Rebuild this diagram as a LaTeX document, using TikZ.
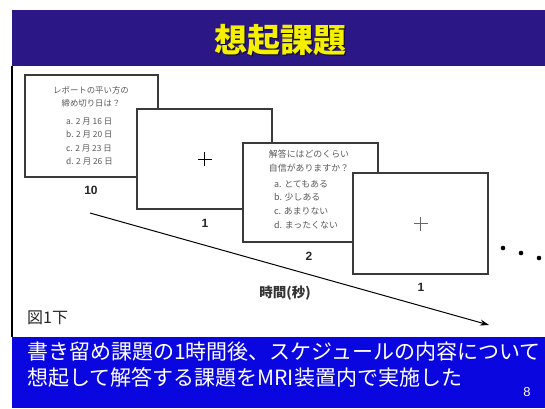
\documentclass[tikz,border=0pt]{standalone}
\usepackage{fontspec}
\setmainfont{Liberation Sans}
\newfontfamily\jp{Noto Sans CJK JP}
\usetikzlibrary{arrows.meta}
\definecolor{titlebar}{HTML}{2B1786}
\definecolor{bottombar}{HTML}{0A06E0}
\definecolor{boxline}{HTML}{3A3A3A}
\definecolor{qtext}{HTML}{5A5A5A}
\definecolor{titleyellow}{HTML}{F5F000}
\begin{document}
\begin{tikzpicture}[x=1pt,y=-1pt,
  card/.style={draw=boxline, line width=1.2pt, fill=white, minimum width=135pt, minimum height=100pt, inner sep=0pt},
  numlabel/.style={font=\fontsize{12}{12}\selectfont\bfseries, text=black!85, inner sep=0pt},
  qsmall/.style={font=\jp\fontsize{8.4}{13.2}\selectfont, text=qtext, inner sep=0pt},
  qmid/.style={font=\jp\fontsize{8.9}{13.6}\selectfont, text=qtext, inner sep=0pt},
  fix/.style={line width=0.9pt}
]
\useasboundingbox (0,0) rectangle (545,408);
\fill[white] (0,0) rectangle (545,408);
% bars
\node[fill=titlebar, minimum width=533pt, minimum height=56pt, anchor=north west, inner sep=0pt] (titlebar) at (12,10) {};
\node[fill=bottombar, minimum width=533pt, minimum height=71pt, anchor=north west, inner sep=0pt] (bottombar) at (12,337) {};
\draw[line width=1.2pt, black] (titlebar.south west) -- (bottombar.north west);
% title
\node[text=black!80!titlebar, font=\jp\bfseries\fontsize{33}{33}\selectfont, inner sep=0pt] (titleshadow) at (281.2,41.2) {想起課題};
\node[text=titleyellow, font=\jp\bfseries\fontsize{33}{33}\selectfont, inner sep=0pt] (title) at (280,40) {想起課題};
% cards
\node[card, minimum width=133pt, minimum height=102pt] (box1) at (91.5,126) {};
\node[qsmall, align=center] (q1) at (91,97) {レポートの平い方の\\締め切り日は？};
\node[qsmall, align=left, anchor=west] (q1opts) at (66,141.5) {a. 2 月 16 日\\b. 2 月 20 日\\c. 2 月 23 日\\d. 2 月 26 日};
\node[numlabel] (l1) at (91,190) {10};

\node[card] (box2) at (204.5,159) {};
\draw[fix, black] ([xshift=-7pt]box2.center) -- ([xshift=7pt]box2.center);
\draw[fix, black] ([yshift=-7pt]box2.center) -- ([yshift=7pt]box2.center);
\node[numlabel] (l2) at (205,223) {1};

\node[card, minimum height=99pt] (box3) at (310.5,192.5) {};
\node[qmid, align=center] (q3) at (309,161) {解答にはどのくらい\\自信がありますか？};
\node[qmid, align=left, anchor=west] (q3opts) at (274,204.5) {a. とてもある\\b. 少しある\\c. あまりない\\d. まったくない};
\node[numlabel] (l3) at (309,256) {2};

\node[card, minimum height=101pt] (box4) at (420.5,223.5) {};
\draw[line width=0.8pt, black!60] ([xshift=-7pt]box4.center) -- ([xshift=7pt]box4.center);
\draw[line width=0.8pt, black!60] ([yshift=-7pt]box4.center) -- ([yshift=7pt]box4.center);
\node[numlabel] (l4) at (421,287) {1};

% dots
\fill (503,248) circle (2.3pt);
\fill (521,253) circle (2.3pt);
\fill (539,258) circle (2.3pt);

% time arrow
\coordinate (tstart) at (90,213);
\coordinate (tend) at (489,325);
\draw[line width=1pt, -{Stealth[length=9pt,width=6pt]}] (tstart) -- (tend);
\node[font=\jp\bfseries\fontsize{13.5}{13.5}\selectfont, text=black!80, inner sep=0pt] (timelbl) at (285,293) {時間(秒)};
\node[font=\jp\fontsize{16}{16}\selectfont, text=black!85, inner sep=0pt, anchor=west] (fig) at (27,318) {図1下};

% bottom text
\node[font=\jp\fontsize{21}{26}\selectfont, text=white, align=left, anchor=west, inner sep=0pt] (summary) at (27,365) {書き留め課題の1時間後、スケジュールの内容について\\想起して解答する課題をMRI装置内で実施した};
\node[font=\fontsize{13}{13}\selectfont, text=white, inner sep=0pt] (pagenum) at (527,392) {8};
\end{tikzpicture}
\end{document}
